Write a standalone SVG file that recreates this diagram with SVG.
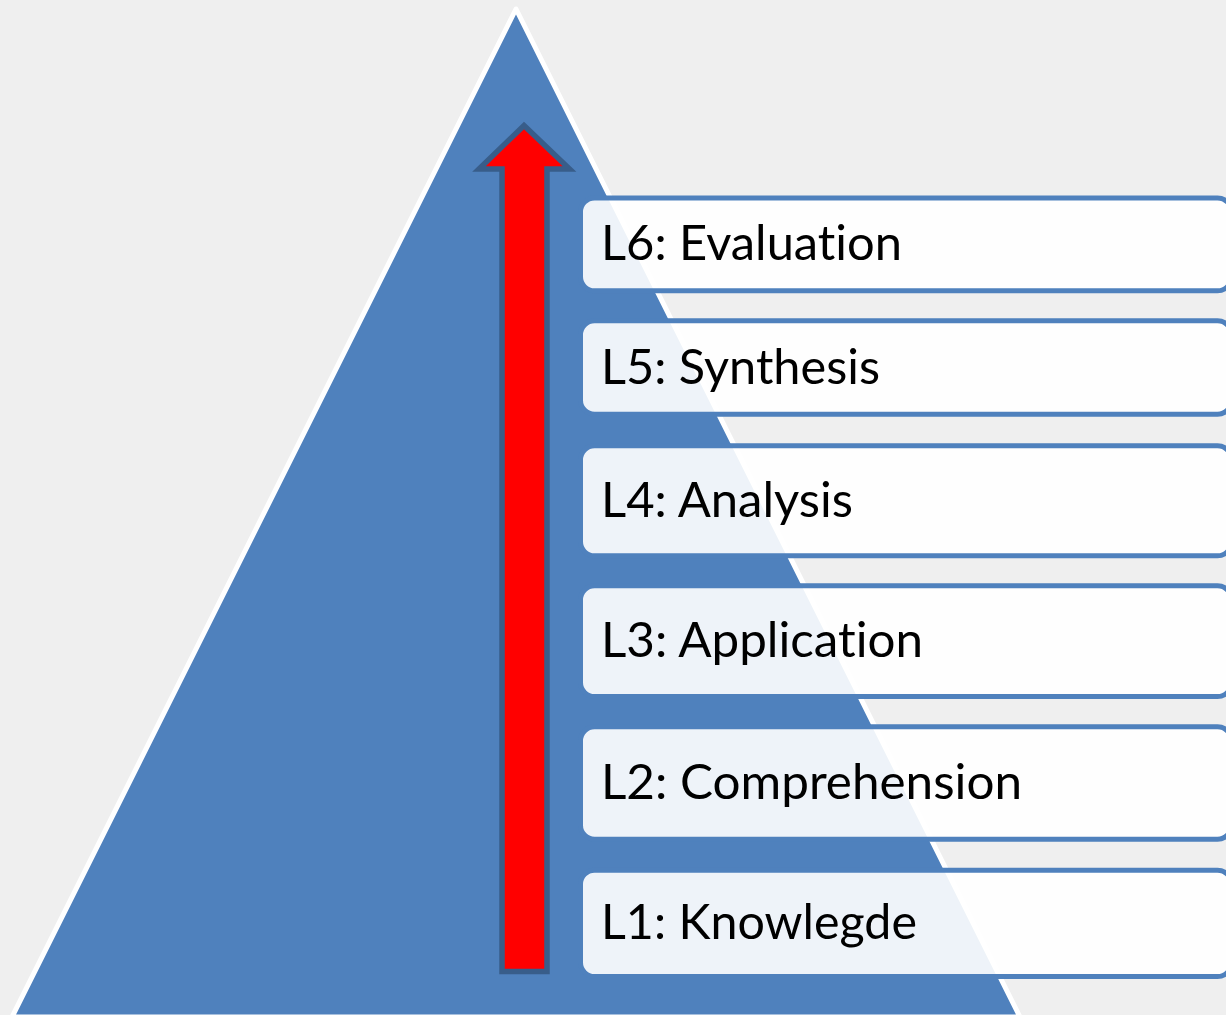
<svg xmlns="http://www.w3.org/2000/svg" width="1226" height="1015" viewBox="0 0 1226 1015">
  <style>
    .bg { fill: #efefef; }
    .tri { fill: #4f81bd; stroke: #ffffff; stroke-width: 5; stroke-linejoin: round; }
    .arrow { fill: #ff0000; stroke: #385d8a; stroke-width: 5.5; stroke-linejoin: miter; stroke-miterlimit: 10; }
    .box { fill: #ffffff; fill-opacity: 0.9; stroke: #4f81bd; stroke-width: 5; }
    .lbl { font-family: Lato, "Open Sans", "Liberation Sans", sans-serif; font-size: 48px; fill: #000000; font-variant-ligatures: none; font-feature-settings: "liga" 0, "clig" 0; }
  </style>
  <rect class="bg" x="0" y="0" width="1226" height="1015"/>
  <g id="pyramid">
    <polygon class="tri" points="516,9 12,1017 1020,1017"/>
  </g>
  <g id="connectors">
    <path id="arrow-up" class="arrow" d="M524,125.5 L569.5,169 L547,169 L547,971.5 L502,971.5 L502,169 L479,169 Z"/>
  </g>
  <g id="L6">
    <rect class="box" x="580.5" y="198" width="651" height="92.8" rx="14"/>
    <text class="lbl" x="601" y="260" textLength="301" lengthAdjust="spacingAndGlyphs">L6: Evaluation</text>
  </g>
  <g id="L5">
    <rect class="box" x="580.5" y="320.8" width="651" height="93.4" rx="14"/>
    <text class="lbl" x="601" y="383.5" textLength="279" lengthAdjust="spacingAndGlyphs">L5: Synthesis</text>
  </g>
  <g id="L4">
    <rect class="box" x="580.5" y="445.8" width="651" height="110" rx="14"/>
    <text class="lbl" x="601" y="516.5" textLength="252" lengthAdjust="spacingAndGlyphs">L4: Analysis</text>
  </g>
  <g id="L3">
    <rect class="box" x="580.5" y="585.8" width="651" height="110.7" rx="14"/>
    <text class="lbl" x="601" y="656.5" textLength="322" lengthAdjust="spacingAndGlyphs">L3: Application</text>
  </g>
  <g id="L2">
    <rect class="box" x="580.5" y="726.8" width="651" height="112.4" rx="14"/>
    <text class="lbl" x="601" y="799" textLength="421" lengthAdjust="spacingAndGlyphs">L2: Comprehension</text>
  </g>
  <g id="L1">
    <rect class="box" x="580.5" y="870.2" width="651" height="106.3" rx="14"/>
    <text class="lbl" x="601" y="939" textLength="316" lengthAdjust="spacingAndGlyphs">L1: Knowlegde</text>
  </g>
</svg>
